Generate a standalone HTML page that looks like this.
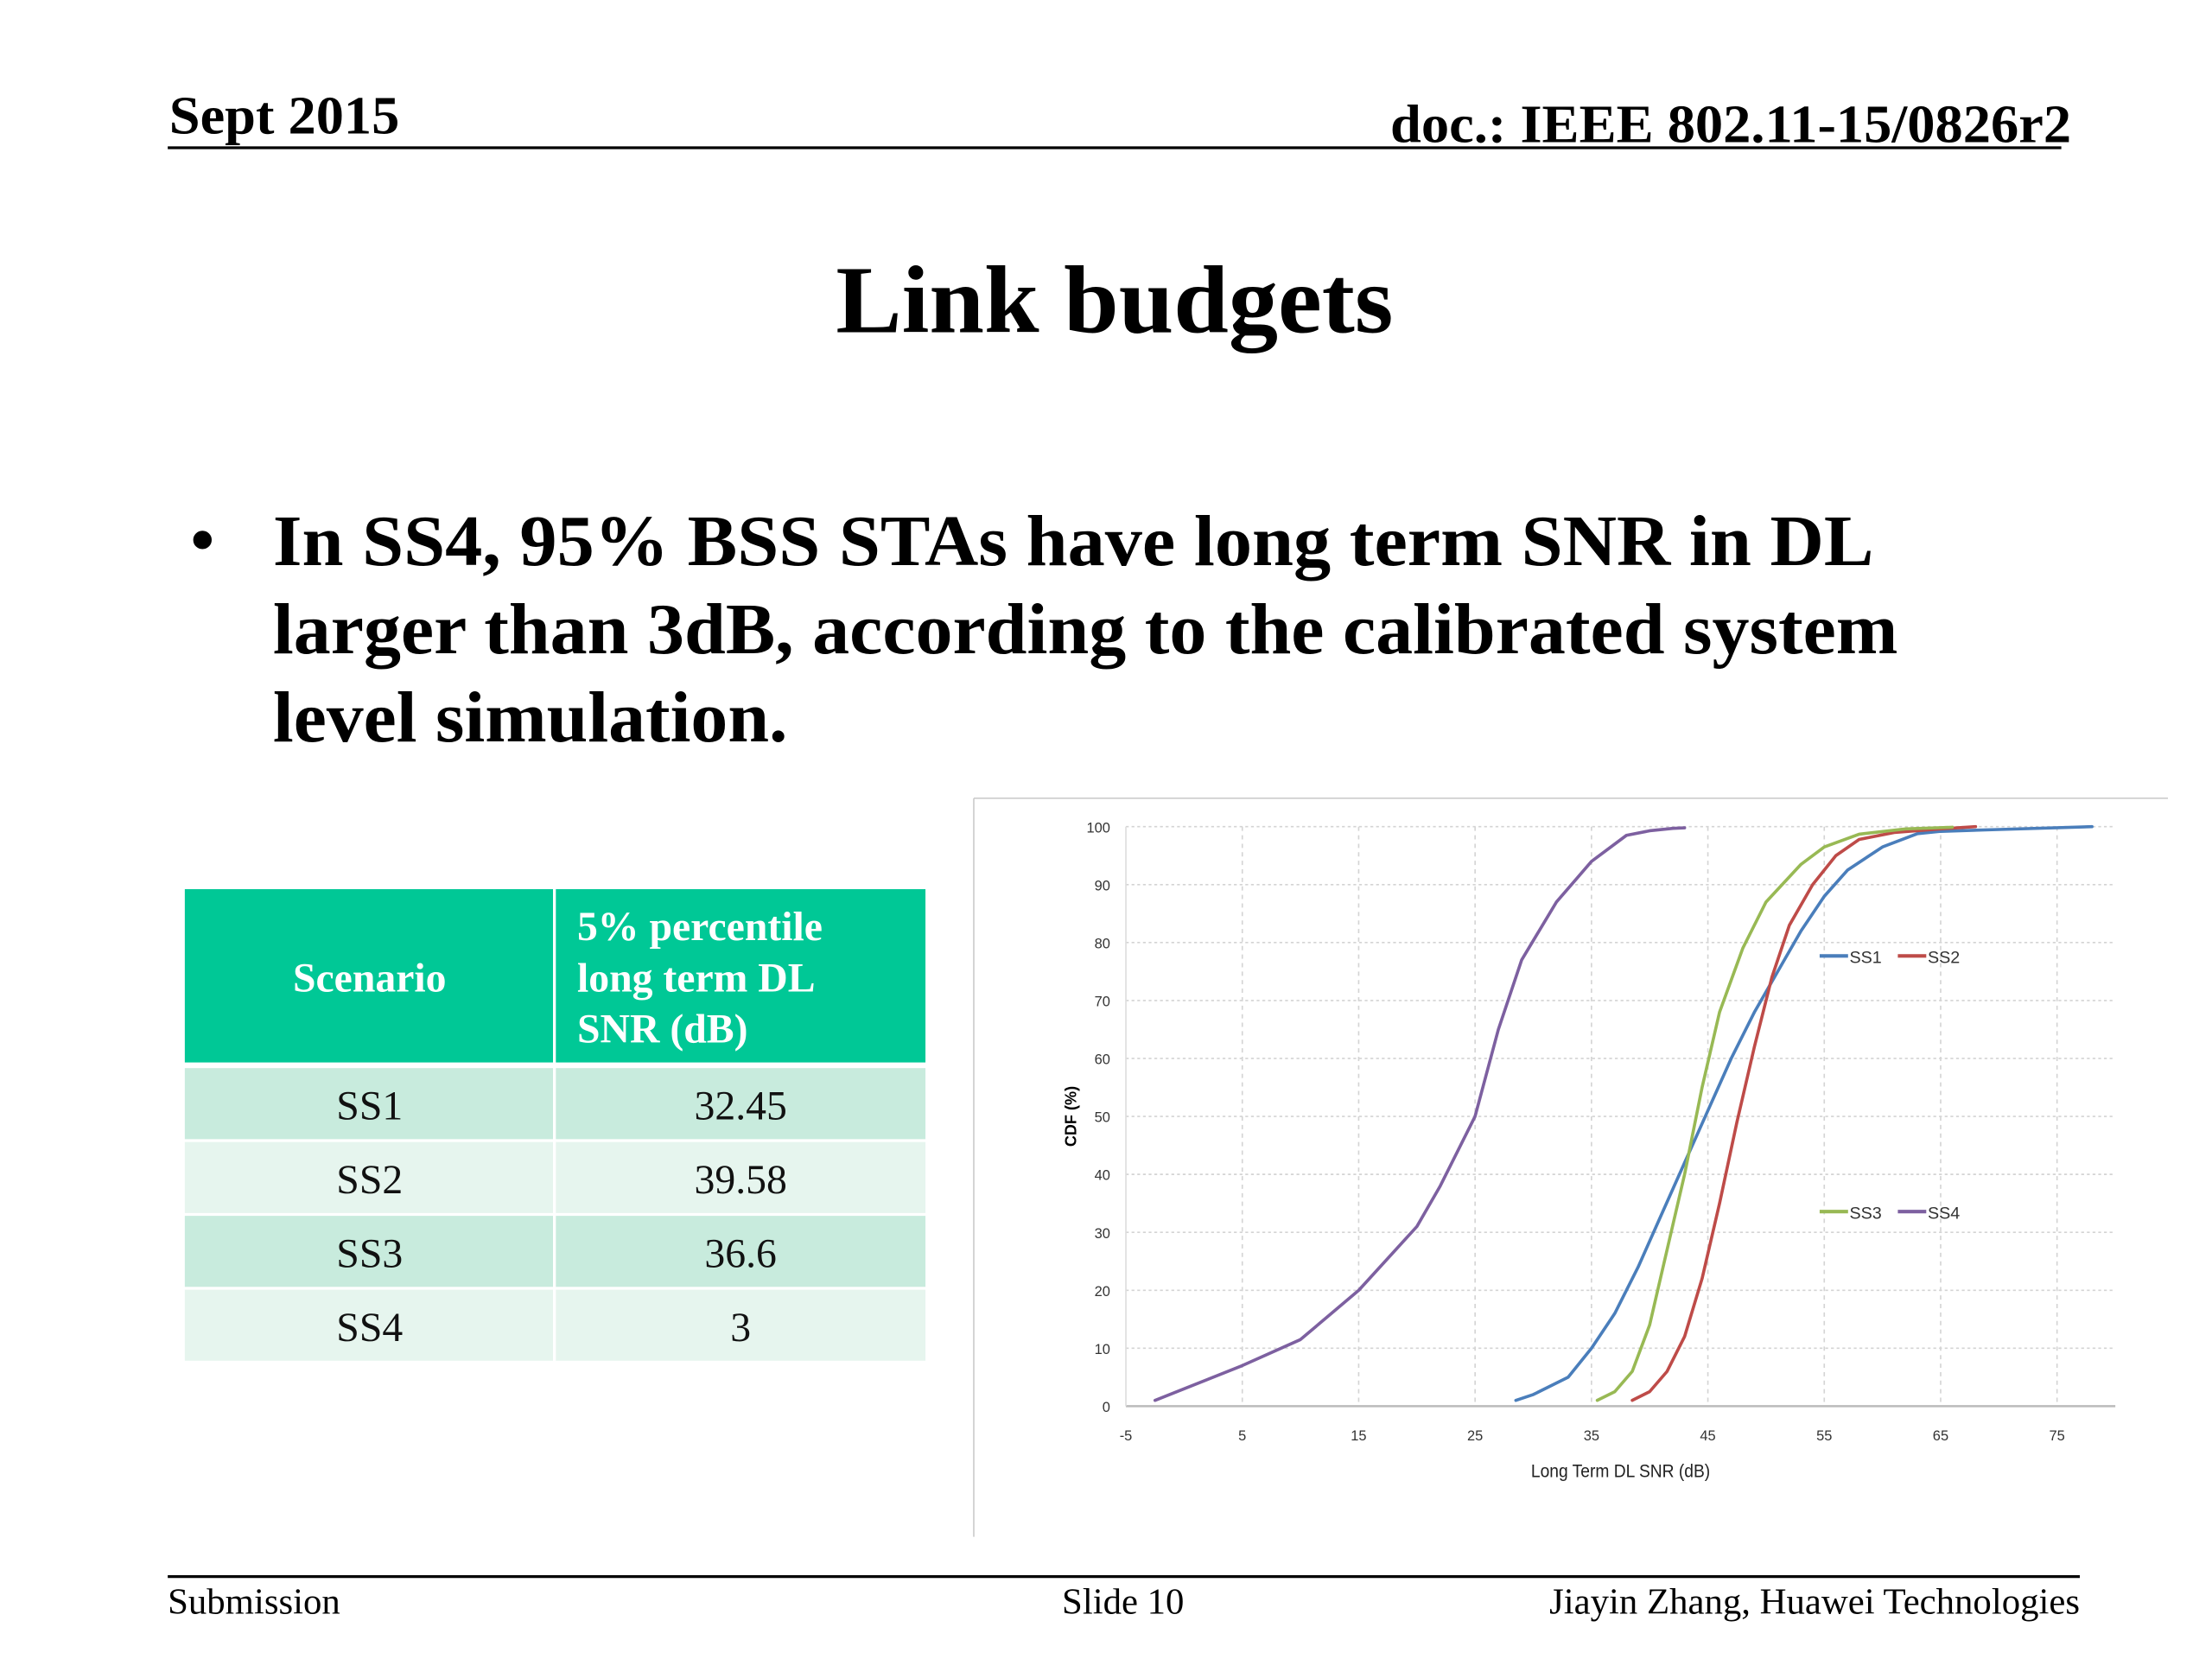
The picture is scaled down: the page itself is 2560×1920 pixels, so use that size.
<!DOCTYPE html>
<html><head><meta charset="utf-8"><style>
html,body{margin:0;padding:0;background:#fff;}
svg{display:block;}
text{font-family:"Liberation Serif",serif;}
</style></head><body>
<svg id="slide" width="2560" height="1920" viewBox="0 0 1556 1168" preserveAspectRatio="none" xmlns="http://www.w3.org/2000/svg">
<rect x="0" y="0" width="1556" height="1168" fill="#fff"/>
<text x="119" y="94" font-size="38" font-weight="bold" textLength="162" lengthAdjust="spacingAndGlyphs">Sept 2015</text>
<text x="1457" y="100" font-size="38" font-weight="bold" text-anchor="end" textLength="479" lengthAdjust="spacingAndGlyphs">doc.: IEEE 802.11-15/0826r2</text>
<line x1="118" y1="104" x2="1450" y2="104" stroke="#000" stroke-width="2"/>
<text x="784" y="234" font-size="68" font-weight="bold" text-anchor="middle" textLength="392" lengthAdjust="spacingAndGlyphs">Link budgets</text>
<text x="134" y="396" font-size="48" font-weight="bold">•</text>
<g font-size="51" font-weight="bold">
<text x="192" y="398" textLength="1126" lengthAdjust="spacingAndGlyphs">In SS4, 95% BSS STAs have long term SNR in DL</text>
<text x="192" y="460" textLength="1143" lengthAdjust="spacingAndGlyphs">larger than 3dB, according to the calibrated system</text>
<text x="192" y="522" textLength="362" lengthAdjust="spacingAndGlyphs">level simulation.</text>
</g>
<g>
<rect x="130" y="626" width="259" height="122" fill="#00C896"/>
<rect x="391" y="626" width="260" height="122" fill="#00C896"/>
<text x="260" y="698" font-size="29" font-weight="bold" fill="#fff" text-anchor="middle">Scenario</text>
<text x="406" y="662" font-size="29" font-weight="bold" fill="#fff">5% percentile</text>
<text x="406" y="698" font-size="29" font-weight="bold" fill="#fff">long term DL</text>
<text x="406" y="734" font-size="29" font-weight="bold" fill="#fff">SNR (dB)</text>
<rect x="130" y="752" width="259" height="50" fill="#C8EBDD"/><rect x="391" y="752" width="260" height="50" fill="#C8EBDD"/>
<rect x="130" y="804" width="259" height="50" fill="#E6F5EE"/><rect x="391" y="804" width="260" height="50" fill="#E6F5EE"/>
<rect x="130" y="856" width="259" height="50" fill="#C8EBDD"/><rect x="391" y="856" width="260" height="50" fill="#C8EBDD"/>
<rect x="130" y="908" width="259" height="50" fill="#E6F5EE"/><rect x="391" y="908" width="260" height="50" fill="#E6F5EE"/>
<g font-size="29" text-anchor="middle" fill="#111">
<text x="260" y="788">SS1</text><text x="521" y="788">32.45</text>
<text x="260" y="840">SS2</text><text x="521" y="840">39.58</text>
<text x="260" y="892">SS3</text><text x="521" y="892">36.6</text>
<text x="260" y="944">SS4</text><text x="521" y="944">3</text>
</g>
</g>
<g id="chart">
<line x1="685" y1="562" x2="1525" y2="562" stroke="#ccc" stroke-width="1"/>
<line x1="685" y1="562" x2="685" y2="1082" stroke="#ccc" stroke-width="1"/>
<g id="grid"></g>
<g id="axes"></g>
<g id="series"></g>
<g id="legend"></g>
<text transform="translate(757,786) rotate(-90)" font-family="Liberation Sans" font-size="11" font-weight="bold" text-anchor="middle" style="font-family:'Liberation Sans',sans-serif">CDF (%)</text>
<text x="1140" y="1040" style="font-family:'Liberation Sans',sans-serif" font-size="13" text-anchor="middle" fill="#222" textLength="126" lengthAdjust="spacingAndGlyphs">Long Term  DL SNR (dB)</text>
</g>
<line x1="118" y1="1110" x2="1463" y2="1110" stroke="#000" stroke-width="2"/>
<text x="118" y="1136" font-size="26">Submission</text>
<text x="790" y="1136" font-size="26" text-anchor="middle">Slide 10</text>
<text x="1463" y="1136" font-size="26" text-anchor="end">Jiayin Zhang, Huawei Technologies</text>
</svg>
<script>
const xTicks = [-5, 5, 15, 25, 35, 45, 55, 65, 75];
const yTicks = [0, 10, 20, 30, 40, 50, 60, 70, 80, 90, 100];
const seriesNames = ["SS1", "SS2", "SS3", "SS4"];
const ss1X = [28.5,30,33,35,37,39,41,43,45,47,49,51,53,55,57,60,63,65,70,78];
const ss1Y = [1,2,5,10,16,24,33,42,51,60,68,75,82,88,92.5,96.5,98.8,99.2,99.5,100];
const ss2X = [38.5,40,41.5,43,44.5,46,47.5,49,50.5,52,54,56,58,61,65,68];
const ss2Y = [1,2.5,6,12,22,35,49,62,74,83,90,95,97.8,99,99.6,100];
const ss3X = [35.5,37,38.5,40,41.5,43,44.5,46,48,50,53,55,58,62,66];
const ss3Y = [1,2.5,6,14,27,40,55,68,79,87,93.5,96.5,98.7,99.6,99.9];
const ss4X = [-2.5,0,5,10,15,20,22,25,27,29,32,35,38,40,42,43];
const ss4Y = [1,3,7,11.5,20,31,38,50,65,77,87,94,98.5,99.3,99.7,99.8];
const colors = ["#4A7EBB", "#BE4B48", "#98B954", "#7D60A0"];

const NS = "http://www.w3.org/2000/svg";
const X0 = 792, X1 = 1447, Y0 = 990, Y1 = 582;
function sx(v){ return X0 + (v - (-5)) * (X1 - X0) / 80; }
function sy(v){ return Y0 - v * (Y0 - Y1) / 100; }
function mk(tag, attrs, parent){ const e = document.createElementNS(NS, tag); for (const k in attrs) e.setAttribute(k, attrs[k]); parent.appendChild(e); return e; }

const grid = document.getElementById("grid");
const axes = document.getElementById("axes");
yTicks.forEach(t => {
  if (t > 0) {
    const gl = mk("line", {x1: X0, x2: 1488, y1: sy(t), y2: sy(t), stroke: "#d4d4d4", "stroke-width": 1, "stroke-dasharray": "2,2"}, grid);
    
    
  }
  const lb = mk("text", {x: 781, y: sy(t) + 4, "font-size": 10, "text-anchor": "end", fill: "#333", style: "font-family:'Liberation Sans',sans-serif"}, axes);
  lb.textContent = t;
  
  
});
xTicks.forEach(t => {
  if (t > -5) {
    const gl = mk("line", {x1: sx(t), x2: sx(t), y1: Y1, y2: Y0, stroke: "#d4d4d4", "stroke-width": 1, "stroke-dasharray": "3,3"}, grid);
    
    
  }
  const lb = mk("text", {x: sx(t), y: 1014, "font-size": 10, "text-anchor": "middle", fill: "#333", style: "font-family:'Liberation Sans',sans-serif"}, axes);
  lb.textContent = t;
  
  
});
const xa = mk("line", {x1: X0, x2: 1488, y1: Y0, y2: Y0, stroke: "#bbb", "stroke-width": 1.5}, axes);


const ya = mk("line", {x1: X0, x2: X0, y1: Y1, y2: Y0, stroke: "#ddd", "stroke-width": 1}, axes);



const seriesG = document.getElementById("series");
const allX = [ss1X, ss2X, ss3X, ss4X], allY = [ss1Y, ss2Y, ss3Y, ss4Y];
allX.forEach((xs, i) => {
  const pts = xs.map((x, j) => sx(x).toFixed(1) + "," + sy(allY[i][j]).toFixed(1)).join(" ");
  const pl = mk("polyline", {points: pts, fill: "none", stroke: colors[i], "stroke-width": 2.2, "stroke-linejoin": "round", "stroke-linecap": "round"}, seriesG);
  
  
});

const legend = document.getElementById("legend");
const legPos = [[1280, 673], [1335, 673], [1280, 853], [1335, 853]];
seriesNames.forEach((n, i) => {
  const [lx, ly] = legPos[i];
  const ln = mk("line", {x1: lx, x2: lx + 20, y1: ly, y2: ly, stroke: colors[i], "stroke-width": 2.5}, legend);
  
  
  const tx = mk("text", {x: lx + 21, y: ly + 5, "font-size": 12, fill: "#333", style: "font-family:'Liberation Sans',sans-serif"}, legend);
  tx.textContent = n;
  
  
});
</script>
</body></html>
